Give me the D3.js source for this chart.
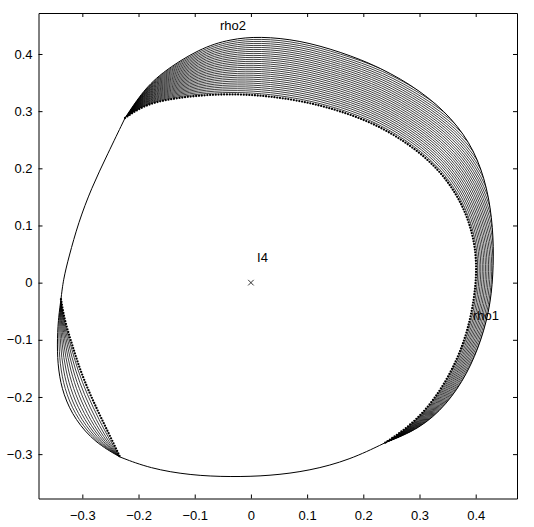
<!DOCTYPE html>
<html>
<head>
<meta charset="utf-8">
<script src="https://cdn.jsdelivr.net/npm/d3@7"></script>
<style>
    html, body { margin: 0; padding: 0; background: #fff; }
    svg text { font-family: "Liberation Sans", Arial, Helvetica, sans-serif; fill: #000; }
</style>
</head>
<body>
<div class="svg-container"></div>
<script>
// Data (x, y)
const upperOuter = [
    [-0.224, 0.288], [-0.196, 0.330], [-0.162, 0.366], [-0.091, 0.410], [-0.037, 0.426],
    [0.016, 0.431], [0.087, 0.424], [0.159, 0.404], [0.230, 0.377], [0.302, 0.336],
    [0.358, 0.288], [0.398, 0.232], [0.421, 0.166], [0.431, 0.096], [0.432, 0.030],
    [0.427, -0.036], [0.411, -0.099], [0.385, -0.160], [0.348, -0.214], [0.300, -0.256],
    [0.239, -0.280]
];
const upperInner = [
    [-0.224, 0.288], [-0.197, 0.306], [-0.162, 0.319], [-0.091, 0.328], [-0.037, 0.330],
    [0.016, 0.328], [0.087, 0.319], [0.159, 0.301], [0.230, 0.274], [0.292, 0.235],
    [0.336, 0.196], [0.368, 0.152], [0.388, 0.108], [0.399, 0.064], [0.402, 0.020],
    [0.397, -0.032], [0.384, -0.092], [0.359, -0.153], [0.323, -0.210], [0.283, -0.251],
    [0.239, -0.280]
];
// where the rho1 lines run out past the outer edge (clipped away)
const upperGuide = [
    [-0.224, 0.288], [-0.196, 0.330], [-0.162, 0.366], [-0.091, 0.410], [-0.037, 0.426],
    [0.016, 0.431], [0.087, 0.424], [0.159, 0.404], [0.235, 0.379], [0.310, 0.339],
    [0.374, 0.295], [0.427, 0.238], [0.462, 0.163], [0.479, 0.085], [0.483, 0.022],
    [0.476, -0.048], [0.453, -0.118], [0.417, -0.179], [0.363, -0.231], [0.310, -0.261],
    [0.239, -0.280]
];
const leftOuter = [
    [-0.338, -0.029], [-0.343, -0.065], [-0.345, -0.109], [-0.343, -0.153],
    [-0.334, -0.196], [-0.313, -0.240], [-0.277, -0.280], [-0.233, -0.305]
];
const leftInner = [
    [-0.338, -0.029], [-0.332, -0.065], [-0.318, -0.109], [-0.304, -0.153],
    [-0.286, -0.196], [-0.265, -0.240], [-0.245, -0.280], [-0.233, -0.305]
];
const leftLink = [
    [-0.224, 0.288], [-0.255, 0.225], [-0.284, 0.165], [-0.307, 0.105],
    [-0.324, 0.045], [-0.334, 0.005], [-0.338, -0.029]
];
const bottomLink = [
    [-0.233, -0.305], [-0.180, -0.325], [-0.108, -0.337], [-0.037, -0.340],
    [0.034, -0.338], [0.105, -0.329], [0.176, -0.310], [0.239, -0.280]
];
const upperHatchCount = 29;
const leftHatchCount = 9;

const xTicks = [-0.3, -0.2, -0.1, 0, 0.1, 0.2, 0.3, 0.4];
const yTicks = [-0.3, -0.2, -0.1, 0, 0.1, 0.2, 0.3, 0.4];
const centre = [[0, 0]];
const labels = [
    { text: 'rho2', x: -0.055, y: 0.442 },
    { text: 'rho1', x: 0.395, y: -0.065 },
    { text: 'I4', x: 0.011, y: 0.036 }
];

const chart = (() => {
    const W = 534, H = 527;
    const x = d3.scaleLinear().domain([-0.378, 0.4735]).range([38.5, 517]);
    const y = d3.scaleLinear().domain([-0.3776, 0.4717]).range([498.5, 13]);

    const line = d3.line()
        .x(d => x(d[0]))
        .y(d => y(d[1]))
        .curve(d3.curveBasis);

    /**
     * Blend two matching point lists
     */
    const blend = (a, b, t) => a.map((p, i) => [p[0] + (b[i][0] - p[0]) * t, p[1] + (b[i][1] - p[1]) * t]);

    const initSVG = () => d3.select('.svg-container').append('svg')
        .attr('width', W).attr('height', H);

    /**
     * Hatched band between inner (dotted) and outer curves
     */
    const drawBand = (svg, id, inner, outer, guide, count) => {
        const innerRev = line(inner.slice().reverse()).replace(/^M/, 'L');
        svg.append('clipPath').attr('id', id)
            .append('path').attr('d', line(outer) + innerRev + 'Z');

        const g = svg.append('g').attr('clip-path', `url(#${id})`);
        g.selectAll('path')
            .data(d3.range(1, count))
            .enter().append('path')
            .attr('d', k => line(blend(inner, guide, k / count)))
            .attr('fill', 'none')
            .attr('stroke', '#000')
            .attr('stroke-width', 0.75);

        svg.append('path').attr('d', line(outer))
            .attr('fill', 'none').attr('stroke', '#000').attr('stroke-width', 1);

        // dotted inner edge
        const tmp = svg.append('path').attr('d', line(inner)).attr('fill', 'none');
        const node = tmp.node(), len = node.getTotalLength();
        const pts = d3.range(0, len, 2.8).map(l => node.getPointAtLength(l));
        tmp.remove();
        svg.append('g').selectAll('circle')
            .data(pts).enter().append('circle')
            .attr('cx', p => p.x).attr('cy', p => p.y)
            .attr('r', 1.15).attr('fill', '#000');
    };

    const drawAxes = (svg) => {
        const fmt = d3.format('.1~f');
        const opts = (ax, pad) => ax.tickSizeInner(-4).tickSizeOuter(0).tickPadding(pad)
            .tickFormat(pad ? fmt : '');

        svg.append('g').attr('transform', `translate(0,${y.range()[0]})`)
            .call(opts(d3.axisBottom(x).tickValues(xTicks), 12));
        svg.append('g').attr('transform', `translate(0,${y.range()[1]})`)
            .call(opts(d3.axisTop(x).tickValues(xTicks), 0));
        svg.append('g').attr('transform', `translate(${x.range()[0]},0)`)
            .call(opts(d3.axisLeft(y).tickValues(yTicks), 6));
        svg.append('g').attr('transform', `translate(${x.range()[1]},0)`)
            .call(opts(d3.axisRight(y).tickValues(yTicks), 0));

        svg.selectAll('.domain, .tick line').attr('stroke', '#000');
        svg.selectAll('.tick text').attr('font-size', 13)
            .style('font-family', '"Liberation Sans", Arial, sans-serif');
    };

    const init = () => {
        const svg = initSVG();

        drawBand(svg, 'clip-upper', upperInner, upperOuter, upperGuide, upperHatchCount);
        drawBand(svg, 'clip-left', leftInner, leftOuter, leftOuter, leftHatchCount);

        [leftLink, bottomLink].forEach(pts => {
            svg.append('path').attr('d', line(pts))
                .attr('fill', 'none').attr('stroke', '#000').attr('stroke-width', 1);
        });

        svg.selectAll('.centre').data(centre).enter()
            .append('path').attr('class', 'centre')
            .attr('transform', d => `translate(${x(d[0])},${y(d[1])})`)
            .attr('d', d3.symbol(d3.symbolTimes, 22))
            .attr('fill', 'none').attr('stroke', '#000').attr('stroke-width', 0.8);

        svg.selectAll('.lbl').data(labels).enter()
            .append('text').attr('class', 'lbl')
            .attr('x', d => x(d.x)).attr('y', d => y(d.y))
            .attr('font-size', 13).text(d => d.text);

        drawAxes(svg);
    };

    return { init: init };
})();

chart.init();
</script>
</body>
</html>
